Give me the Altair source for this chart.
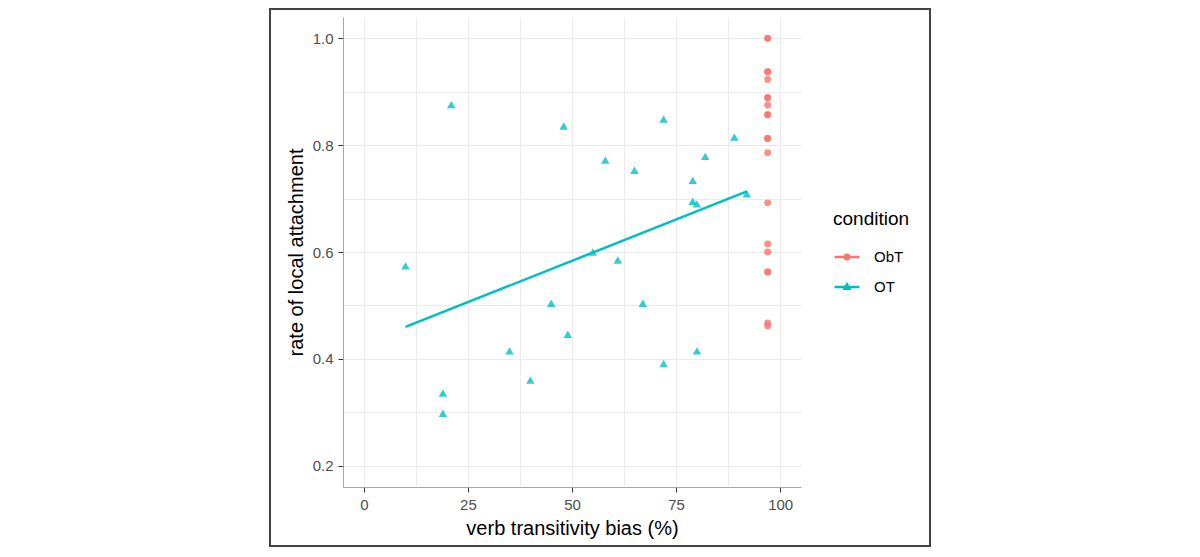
import altair as alt
import pandas as pd

# ---- data ----
conditions = ["ObT", "OT"]
colors = ["#F8766D", "#00BFC4"]

obt_bias = [97] * 20
obt_rate = [1.0, 1.0, 0.9375, 0.9375, 0.923, 0.889, 0.889, 0.875, 0.857, 0.857,
            0.8125, 0.8125, 0.786, 0.692, 0.615, 0.600, 0.5625, 0.5625, 0.467, 0.4615]

ot_bias = [10, 19, 19, 21, 35, 40, 45, 48, 49, 55, 58, 61, 65, 67, 72, 72,
           79, 79, 80, 80, 82, 89, 92]
ot_rate = [0.574, 0.336, 0.298, 0.876, 0.415, 0.360, 0.504, 0.836, 0.446, 0.600,
           0.772, 0.585, 0.753, 0.504, 0.849, 0.391, 0.734, 0.695, 0.690, 0.415,
           0.779, 0.815, 0.709]

x_ticks = [0, 12.5, 25, 37.5, 50, 62.5, 75, 87.5, 100]
y_ticks = [0.2, 0.3, 0.4, 0.5, 0.6, 0.7, 0.8, 0.9, 1.0]

df = pd.DataFrame({
    "bias": obt_bias + ot_bias,
    "rate": obt_rate + ot_rate,
    "condition": ["ObT"] * len(obt_bias) + ["OT"] * len(ot_bias),
})
legend_df = pd.DataFrame({"condition": conditions})

FONT = "Liberation Sans, Arial, sans-serif"

xenc = alt.X(
    "bias:Q",
    scale=alt.Scale(domain=[-5, 105], nice=False, zero=False),
    axis=alt.Axis(
        values=x_ticks,
        title="verb transitivity bias (%)",
        labelExpr="datum.value % 25 === 0 ? datum.label : ''",
        tickOpacity={"condition": {"test": "datum.value % 25 === 0", "value": 1}, "value": 0},
        labelPadding=5,
        titlePadding=6,
    ),
)
yenc = alt.Y(
    "rate:Q",
    scale=alt.Scale(domain=[0.16, 1.04], nice=False, zero=False),
    axis=alt.Axis(
        values=y_ticks,
        title="rate of local attachment",
        labelExpr="round(datum.value * 10) % 2 === 0 ? format(datum.value, '.1f') : ''",
        tickOpacity={"condition": {"test": "round(datum.value * 10) % 2 === 0", "value": 1}, "value": 0},
        labelPadding=5,
        titlePadding=6,
    ),
)

base = alt.Chart(df)

frame = alt.Chart(alt.Data(values=[{}])).mark_rect(
    fill="white", fillOpacity=0, stroke="#444444", strokeWidth=2
).encode(
    x=alt.value(-73), x2=alt.value(587), y=alt.value(-8), y2=alt.value(529)
)

obt_pts = base.transform_filter("datum.condition === 'ObT'").mark_point(
    filled=True, shape="circle", size=48, opacity=0.8, color=colors[0]
).encode(x=xenc, y=yenc)

ot_pts = base.transform_filter("datum.condition === 'OT'").mark_point(
    filled=True, shape="triangle-up", size=72, opacity=0.8, color=colors[1]
).encode(x=xenc, y=yenc)

reg = base.transform_filter("datum.condition === 'OT'").transform_regression(
    "bias", "rate"
).mark_line(color=colors[1], strokeWidth=2.5).encode(x=xenc, y=yenc)

path_circle = "M-1,0H1M-0.18,0A0.18,0.18,0,1,1,0.18,0A0.18,0.18,0,1,1,-0.18,0Z"
path_tri = "M-1,0H1M0,-0.22L0.2,0.13L-0.2,0.13Z"

leg_def = alt.Legend(
    title="condition",
    orient="none",
    legendX=490,
    legendY=193,
    padding=0,
    titleFontSize=19,
    titleFont=FONT,
    titleFontWeight="normal",
    titleColor="black",
    titlePadding=14,
    labelFontSize=15,
    labelFont=FONT,
    labelColor="black",
    labelOffset=13,
    symbolSize=625,
    symbolStrokeWidth=2.5,
    rowPadding=8,
)

# legend-only layer: its marks sit outside the plot and are clipped away
leg = alt.Chart(legend_df).mark_point(filled=True, opacity=1, strokeWidth=2.5, clip=True).encode(
    x=alt.value(-200), y=alt.value(-200),
    shape=alt.Shape("condition:N", scale=alt.Scale(domain=conditions, range=[path_circle, path_tri]), legend=leg_def),
    fill=alt.Fill("condition:N", scale=alt.Scale(domain=conditions, range=colors), legend=leg_def),
    stroke=alt.Stroke("condition:N", scale=alt.Scale(domain=conditions, range=colors), legend=leg_def),
)

chart = alt.layer(frame, obt_pts, ot_pts, reg, leg).properties(
    width=458,
    height=470,
    autosize=alt.AutoSizeParams(type="none"),
    padding={"left": 335, "top": 9, "right": 380, "bottom": 60},
).configure_view(
    stroke=None
).configure_axis(
    labelFont=FONT,
    labelFontSize=15,
    labelColor="#4D4D4D",
    titleFont=FONT,
    titleFontSize=20,
    titleFontWeight="normal",
    titleColor="black",
    domainColor="#A6A6A6",
    domainWidth=1,
    tickColor="#333333",
    tickWidth=1,
    tickSize=5,
    gridColor="#EBEBEB",
    gridWidth=1,
)

chart.save("out.html", embed_options={"renderer": "svg", "actions": False})
